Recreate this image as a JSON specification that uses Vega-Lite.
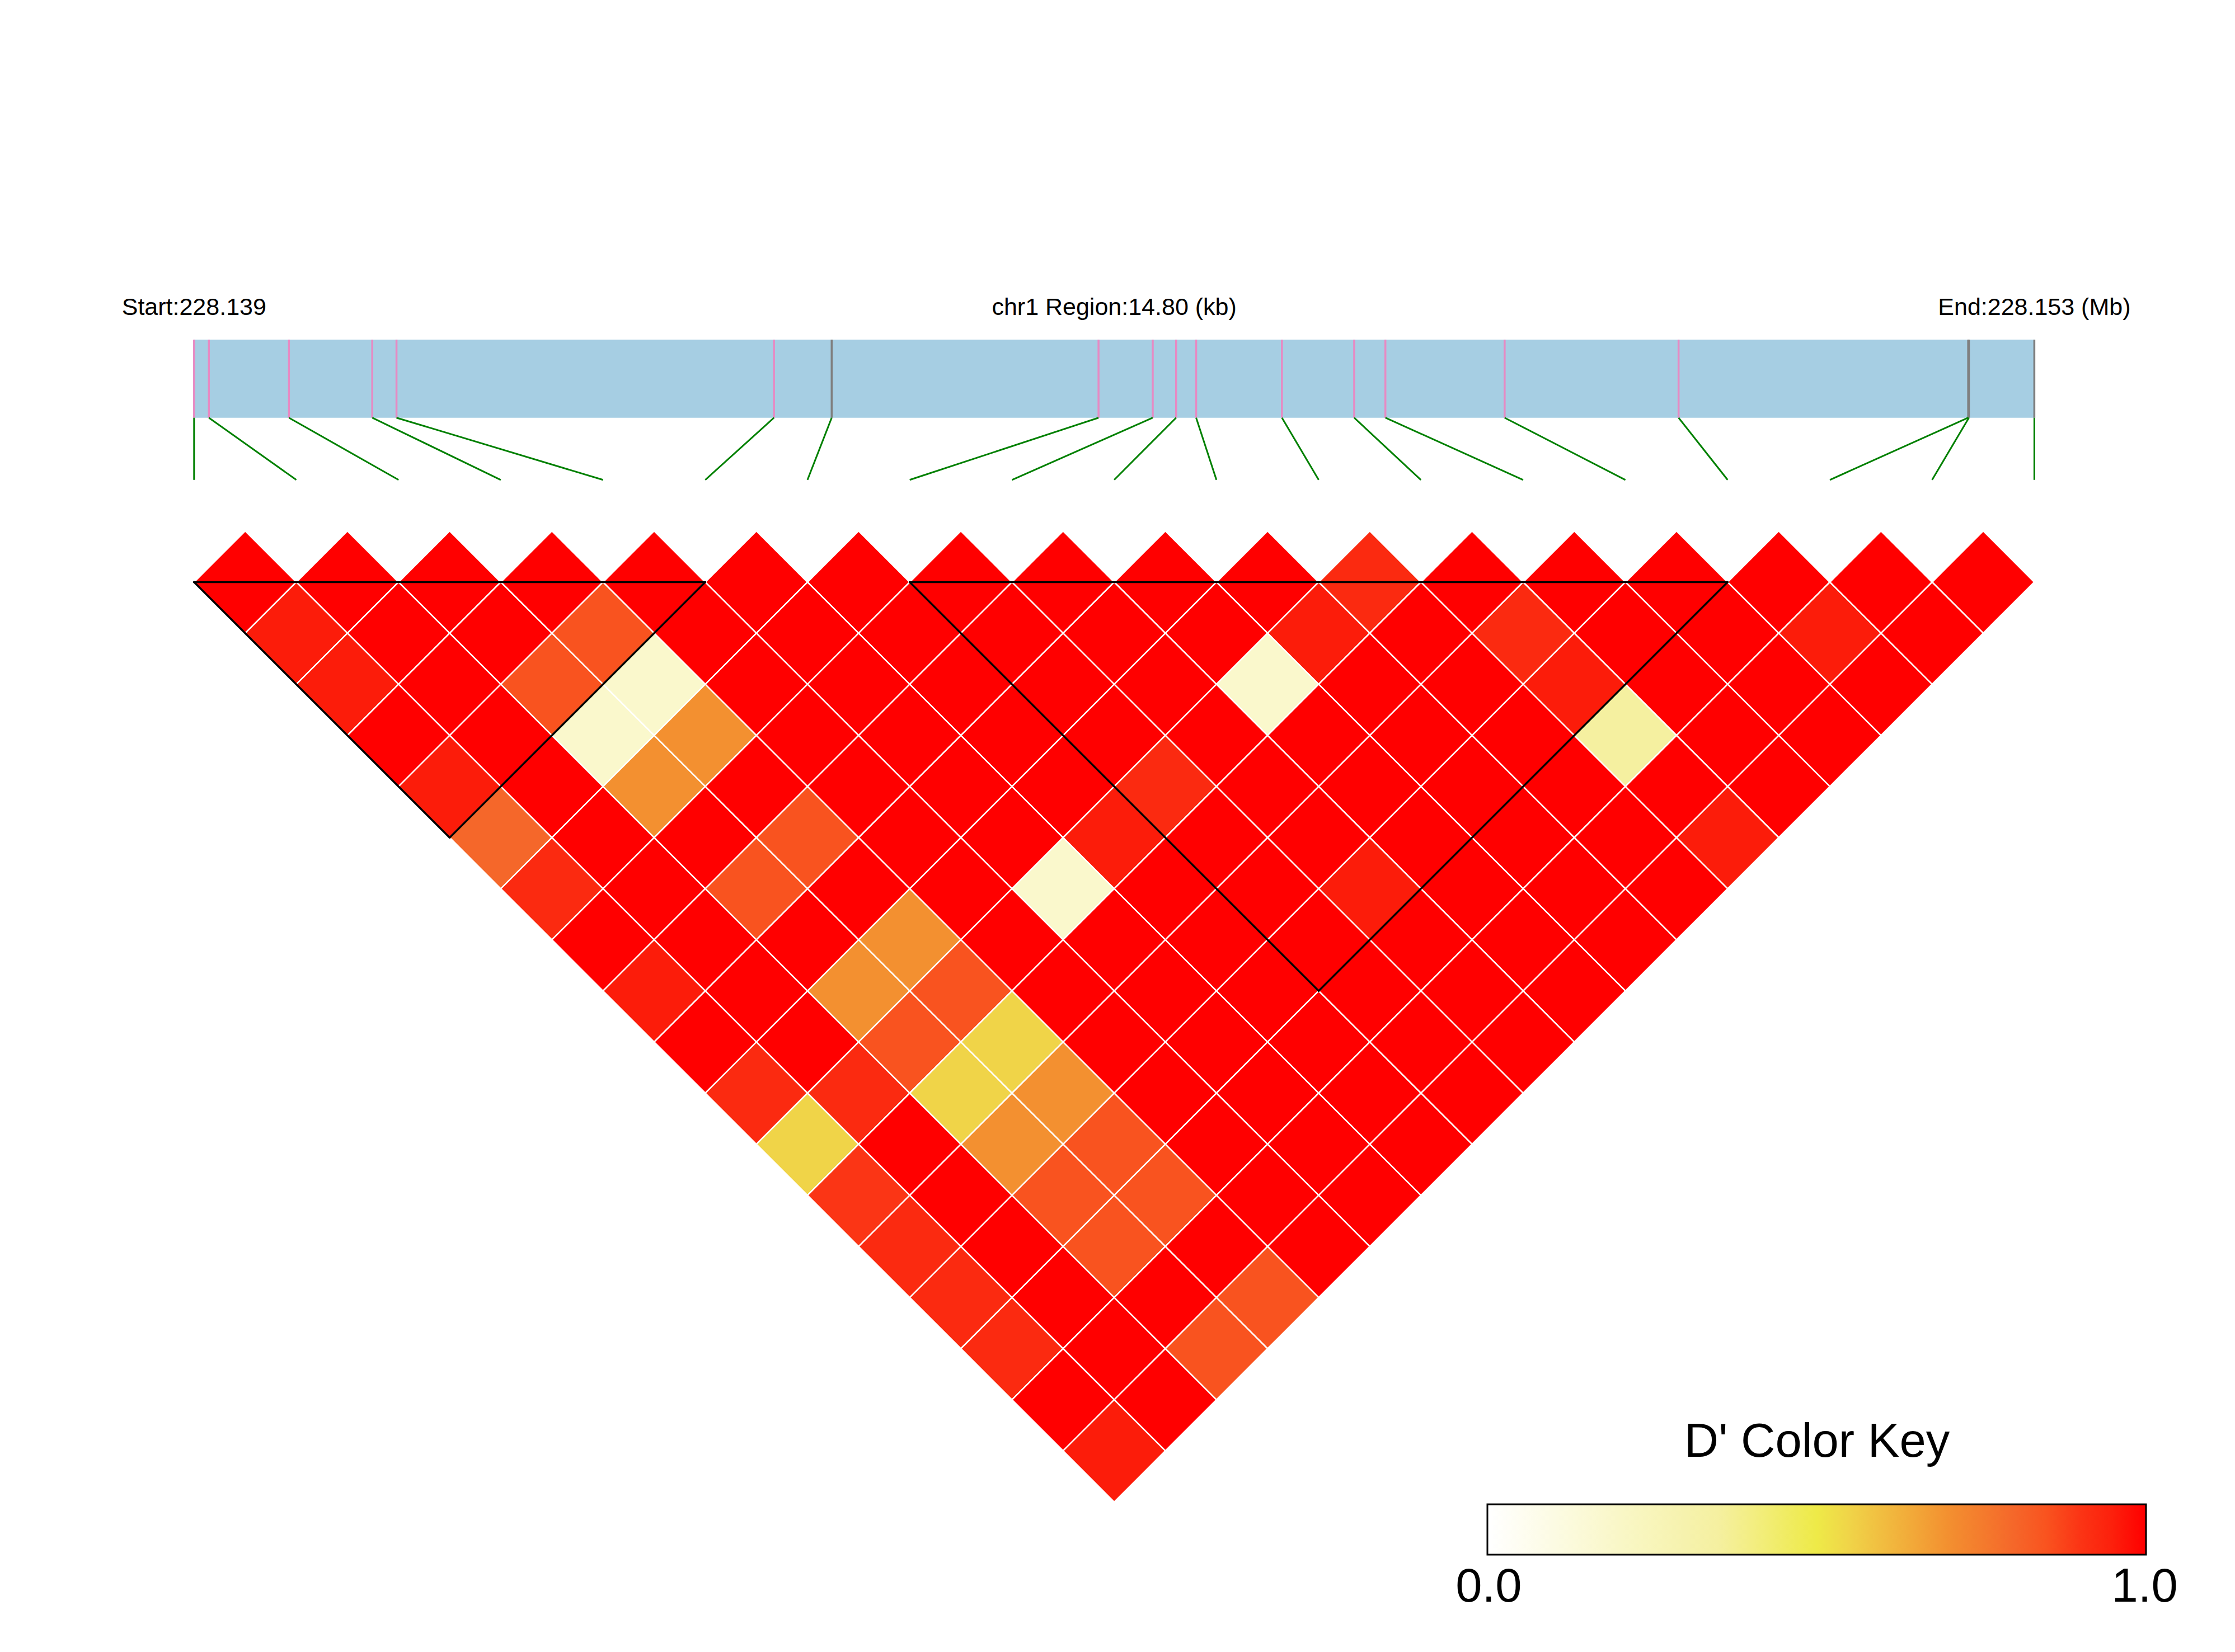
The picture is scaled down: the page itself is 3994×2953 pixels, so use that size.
{
  "$schema": "https://vega.github.io/schema/vega-lite/v6.json",
  "width": 3994,
  "height": 2953,
  "autosize": {"type": "none"},
  "padding": 0,
  "background": "white",
  "config": {"view": {"stroke": null}, "font": "Liberation Sans"},
  "datasets": {
    "snps": [
      {"snp": 1, "kb": 0.000, "block": 1},
      {"snp": 2, "kb": 0.119, "block": 1},
      {"snp": 3, "kb": 0.763, "block": 1},
      {"snp": 4, "kb": 1.433, "block": 1},
      {"snp": 5, "kb": 1.628, "block": 1},
      {"snp": 6, "kb": 4.664, "block": 1},
      {"snp": 7, "kb": 5.128, "block": 0},
      {"snp": 8, "kb": 7.274, "block": 2},
      {"snp": 9, "kb": 7.710, "block": 2},
      {"snp": 10, "kb": 7.898, "block": 2},
      {"snp": 11, "kb": 8.059, "block": 2},
      {"snp": 12, "kb": 8.749, "block": 2},
      {"snp": 13, "kb": 9.330, "block": 2},
      {"snp": 14, "kb": 9.581, "block": 2},
      {"snp": 15, "kb": 10.540, "block": 2},
      {"snp": 16, "kb": 11.939, "block": 2},
      {"snp": 17, "kb": 14.268, "block": 0},
      {"snp": 18, "kb": 14.274, "block": 0},
      {"snp": 19, "kb": 14.800, "block": 0}
    ],
    "ld": [
      {"a":1,"b":2,"d":1},{"a":2,"b":3,"d":1},{"a":3,"b":4,"d":1},{"a":4,"b":5,"d":1},{"a":5,"b":6,"d":1},{"a":6,"b":7,"d":1},{"a":7,"b":8,"d":1},{"a":8,"b":9,"d":1},{"a":9,"b":10,"d":1},{"a":10,"b":11,"d":1},{"a":11,"b":12,"d":1},{"a":12,"b":13,"d":0.92},{"a":13,"b":14,"d":1},{"a":14,"b":15,"d":1},{"a":15,"b":16,"d":1},{"a":16,"b":17,"d":1},{"a":17,"b":18,"d":1},{"a":18,"b":19,"d":1},
      {"a":1,"b":3,"d":0.96},{"a":2,"b":4,"d":1},{"a":3,"b":5,"d":1},{"a":4,"b":6,"d":0.85},{"a":5,"b":7,"d":1},{"a":6,"b":8,"d":1},{"a":7,"b":9,"d":1},{"a":8,"b":10,"d":1},{"a":9,"b":11,"d":1},{"a":10,"b":12,"d":1},{"a":11,"b":13,"d":0.96},{"a":12,"b":14,"d":1},{"a":13,"b":15,"d":0.92},{"a":14,"b":16,"d":1},{"a":15,"b":17,"d":1},{"a":16,"b":18,"d":0.96},{"a":17,"b":19,"d":1},
      {"a":1,"b":4,"d":0.96},{"a":2,"b":5,"d":1},{"a":3,"b":6,"d":0.85},{"a":4,"b":7,"d":0.18},{"a":5,"b":8,"d":1},{"a":6,"b":9,"d":1},{"a":7,"b":10,"d":1},{"a":8,"b":11,"d":1},{"a":9,"b":12,"d":1},{"a":10,"b":13,"d":0.18},{"a":11,"b":14,"d":1},{"a":12,"b":15,"d":1},{"a":13,"b":16,"d":0.96},{"a":14,"b":17,"d":1},{"a":15,"b":18,"d":1},{"a":16,"b":19,"d":1},
      {"a":1,"b":5,"d":1},{"a":2,"b":6,"d":1},{"a":3,"b":7,"d":0.18},{"a":4,"b":8,"d":0.7},{"a":5,"b":9,"d":1},{"a":6,"b":10,"d":1},{"a":7,"b":11,"d":1},{"a":8,"b":12,"d":1},{"a":9,"b":13,"d":1},{"a":10,"b":14,"d":1},{"a":11,"b":15,"d":1},{"a":12,"b":16,"d":1},{"a":13,"b":17,"d":0.35},{"a":14,"b":18,"d":1},{"a":15,"b":19,"d":1},
      {"a":1,"b":6,"d":0.96},{"a":2,"b":7,"d":1},{"a":3,"b":8,"d":0.7},{"a":4,"b":9,"d":1},{"a":5,"b":10,"d":1},{"a":6,"b":11,"d":1},{"a":7,"b":12,"d":1},{"a":8,"b":13,"d":0.92},{"a":9,"b":14,"d":1},{"a":10,"b":15,"d":1},{"a":11,"b":16,"d":1},{"a":12,"b":17,"d":1},{"a":13,"b":18,"d":1},{"a":14,"b":19,"d":1},
      {"a":1,"b":7,"d":0.8},{"a":2,"b":8,"d":1},{"a":3,"b":9,"d":1},{"a":4,"b":10,"d":0.85},{"a":5,"b":11,"d":1},{"a":6,"b":12,"d":1},{"a":7,"b":13,"d":0.96},{"a":8,"b":14,"d":1},{"a":9,"b":15,"d":1},{"a":10,"b":16,"d":1},{"a":11,"b":17,"d":1},{"a":12,"b":18,"d":1},{"a":13,"b":19,"d":0.96},
      {"a":1,"b":8,"d":0.92},{"a":2,"b":9,"d":1},{"a":3,"b":10,"d":0.85},{"a":4,"b":11,"d":1},{"a":5,"b":12,"d":1},{"a":6,"b":13,"d":0.18},{"a":7,"b":14,"d":1},{"a":8,"b":15,"d":1},{"a":9,"b":16,"d":0.96},{"a":10,"b":17,"d":1},{"a":11,"b":18,"d":1},{"a":12,"b":19,"d":1},
      {"a":1,"b":9,"d":1},{"a":2,"b":10,"d":1},{"a":3,"b":11,"d":1},{"a":4,"b":12,"d":0.7},{"a":5,"b":13,"d":1},{"a":6,"b":14,"d":1},{"a":7,"b":15,"d":1},{"a":8,"b":16,"d":1},{"a":9,"b":17,"d":1},{"a":10,"b":18,"d":1},{"a":11,"b":19,"d":1},
      {"a":1,"b":10,"d":0.96},{"a":2,"b":11,"d":1},{"a":3,"b":12,"d":0.7},{"a":4,"b":13,"d":0.85},{"a":5,"b":14,"d":1},{"a":6,"b":15,"d":1},{"a":7,"b":16,"d":1},{"a":8,"b":17,"d":1},{"a":9,"b":18,"d":1},{"a":10,"b":19,"d":1},
      {"a":1,"b":11,"d":1},{"a":2,"b":12,"d":1},{"a":3,"b":13,"d":0.85},{"a":4,"b":14,"d":0.55},{"a":5,"b":15,"d":1},{"a":6,"b":16,"d":1},{"a":7,"b":17,"d":1},{"a":8,"b":18,"d":1},{"a":9,"b":19,"d":1},
      {"a":1,"b":12,"d":0.92},{"a":2,"b":13,"d":0.92},{"a":3,"b":14,"d":0.55},{"a":4,"b":15,"d":0.7},{"a":5,"b":16,"d":1},{"a":6,"b":17,"d":1},{"a":7,"b":18,"d":1},{"a":8,"b":19,"d":1},
      {"a":1,"b":13,"d":0.55},{"a":2,"b":14,"d":1},{"a":3,"b":15,"d":0.7},{"a":4,"b":16,"d":0.85},{"a":5,"b":17,"d":1},{"a":6,"b":18,"d":1},{"a":7,"b":19,"d":1},
      {"a":1,"b":14,"d":0.9},{"a":2,"b":15,"d":1},{"a":3,"b":16,"d":0.85},{"a":4,"b":17,"d":0.85},{"a":5,"b":18,"d":1},{"a":6,"b":19,"d":1},
      {"a":1,"b":15,"d":0.92},{"a":2,"b":16,"d":1},{"a":3,"b":17,"d":0.85},{"a":4,"b":18,"d":1},{"a":5,"b":19,"d":1},
      {"a":1,"b":16,"d":0.92},{"a":2,"b":17,"d":1},{"a":3,"b":18,"d":1},{"a":4,"b":19,"d":0.85},
      {"a":1,"b":17,"d":0.92},{"a":2,"b":18,"d":1},{"a":3,"b":19,"d":0.85},
      {"a":1,"b":18,"d":1},{"a":2,"b":19,"d":1},
      {"a":1,"b":19,"d":0.96}
    ],
    "blocks": [
      {"block": 1, "first": 1, "last": 6},
      {"block": 2, "first": 8, "last": 16}
    ],
    "labels": [
      {"label": "Start:228.139", "at": 1},
      {"label": "chr1 Region:14.80 (kb)", "at": 10},
      {"label": "End:228.153 (Mb)", "at": 19}
    ],
    "region": [{"from_kb": 0, "to_kb": 14.8}]
  },
  "layer": [
    {
      "data": {"name": "region"},
      "transform": [
        {"calculate": "1 + 18 * datum.from_kb / 14.8", "as": "x0"},
        {"calculate": "1 + 18 * datum.to_kb / 14.8", "as": "x1"},
        {"calculate": "-3.742", "as": "ytop"},
        {"calculate": "-2.216", "as": "ybot"}
      ],
      "mark": {"type": "rect", "color": "#A6CEE3"},
      "encoding": {
        "x": {"field": "x0", "type": "quantitative", "scale": {"domain": [-0.89819, 20.9628], "nice": false, "zero": false}, "axis": null},
        "x2": {"field": "x1"},
        "y": {"field": "ytop", "type": "quantitative", "scale": {"domain": [-10.3902, 21.936], "reverse": true, "nice": false, "zero": false}, "axis": null},
        "y2": {"field": "ybot"}
      }
    },
    {
      "data": {"name": "snps"},
      "transform": [
        {"calculate": "1 + 18 * datum.kb / 14.8", "as": "xm"},
        {"calculate": "-3.742", "as": "ytop"},
        {"calculate": "-2.216", "as": "ybot"}
      ],
      "mark": {"type": "rule", "strokeWidth": 3.5},
      "encoding": {
        "x": {"field": "xm", "type": "quantitative"},
        "y": {"field": "ytop", "type": "quantitative"},
        "y2": {"field": "ybot"},
        "color": {"condition": {"test": "datum.block > 0", "value": "#E78AC3"}, "value": "#7F7F7F"}
      }
    },
    {
      "data": {"name": "snps"},
      "transform": [
        {"calculate": "1 + 18 * datum.kb / 14.8", "as": "xm"},
        {"calculate": "-2.216", "as": "ytop"},
        {"calculate": "-1.0", "as": "ybot"}
      ],
      "mark": {"type": "rule", "strokeWidth": 3, "color": "#008000"},
      "encoding": {
        "x": {"field": "xm", "type": "quantitative"},
        "x2": {"field": "snp"},
        "y": {"field": "ytop", "type": "quantitative"},
        "y2": {"field": "ybot"}
      }
    },
    {
      "data": {"name": "ld"},
      "transform": [
        {"calculate": "(datum.a + datum.b) / 2", "as": "mid"},
        {"calculate": "datum.b - datum.a", "as": "lag"}
      ],
      "mark": {"type": "point", "shape": "diamond", "filled": true, "size": 33379, "opacity": 1, "stroke": "white", "strokeWidth": 2.5, "strokeOpacity": 1},
      "encoding": {
        "x": {"field": "mid", "type": "quantitative"},
        "y": {"field": "lag", "type": "quantitative"},
        "color": {
          "field": "d", "type": "quantitative",
          "scale": {
            "type": "linear",
            "domain": [-0.002, 0, 0.18, 0.35, 0.5, 0.55, 0.7, 0.8, 0.85, 0.9, 0.92, 0.96, 1, 1.002],
            "range": ["#FFFFFF", "#FFFFFF", "#FAF8CC", "#F5F0A0", "#EEEA48", "#F0D448", "#F39030", "#F5672A", "#F9531F", "#FB3515", "#FB2A10", "#FC1C0A", "#FF0000", "#FF0000"],
            "interpolate": "rgb"
          },
          "legend": {
            "orient": "none",
            "direction": "horizontal",
            "legendX": 2658,
            "legendY": 2537,
            "padding": 0,
            "title": "D' Color Key",
            "titleFont": "Liberation Sans",
            "titleFontSize": 85,
            "titleFontWeight": "normal",
            "titleColor": "black",
            "titleAnchor": "middle",
            "titlePadding": 67,
            "titleLimit": 3000,
            "gradientLength": 1177,
            "gradientThickness": 90,
            "gradientStrokeColor": "black",
            "gradientStrokeWidth": 3,
            "values": [0, 1],
            "format": ".1f",
            "labelFont": "Liberation Sans",
            "labelFontSize": 85,
            "labelColor": "black",
            "labelOffset": 17,
            "labelLimit": 1000,
            "labelOverlap": false
          }
        }
      }
    },
    {
      "data": {"name": "blocks"},
      "transform": [
        {"calculate": "(datum.first + datum.last) / 2", "as": "apex_x"},
        {"calculate": "1 + datum.last - datum.first", "as": "apex_lag"},
        {"calculate": "1", "as": "top_lag"}
      ],
      "layer": [
        {
          "mark": {"type": "rule", "color": "black", "strokeWidth": 3.5, "strokeCap": "round"},
          "encoding": {
            "x": {"field": "first", "type": "quantitative"},
            "x2": {"field": "last"},
            "y": {"field": "top_lag", "type": "quantitative"},
            "y2": {"field": "top_lag"}
          }
        },
        {
          "mark": {"type": "rule", "color": "black", "strokeWidth": 3.5, "strokeCap": "round"},
          "encoding": {
            "x": {"field": "first", "type": "quantitative"},
            "x2": {"field": "apex_x"},
            "y": {"field": "top_lag", "type": "quantitative"},
            "y2": {"field": "apex_lag"}
          }
        },
        {
          "mark": {"type": "rule", "color": "black", "strokeWidth": 3.5, "strokeCap": "round"},
          "encoding": {
            "x": {"field": "last", "type": "quantitative"},
            "x2": {"field": "apex_x"},
            "y": {"field": "top_lag", "type": "quantitative"},
            "y2": {"field": "apex_lag"}
          }
        }
      ]
    },
    {
      "data": {"name": "labels"},
      "transform": [{"calculate": "-4.224", "as": "ylab"}],
      "mark": {"type": "text", "font": "Liberation Sans", "fontSize": 43, "align": "center", "baseline": "alphabetic", "color": "black"},
      "encoding": {
        "x": {"field": "at", "type": "quantitative"},
        "y": {"field": "ylab", "type": "quantitative"},
        "text": {"field": "label"}
      }
    }
  ]
}
